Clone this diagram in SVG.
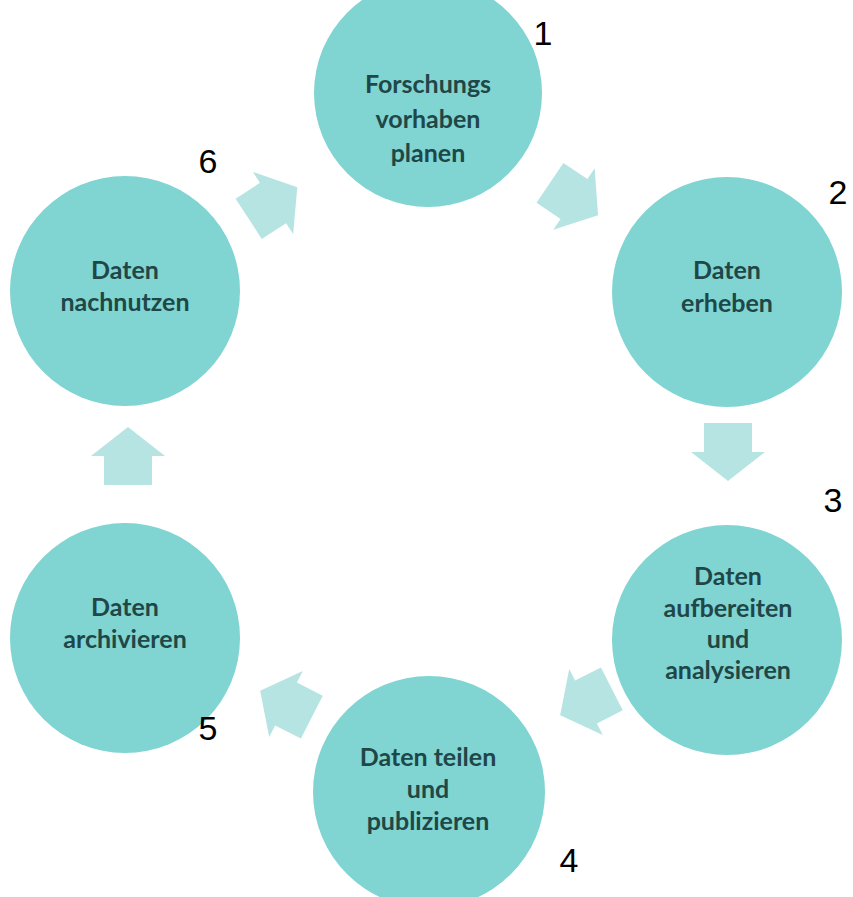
<svg xmlns="http://www.w3.org/2000/svg" width="853" height="897" viewBox="0 0 853 897">
<defs>
<style>
.c{fill:#80d4d2}
.t{font-family:Lato,"Open Sans",sans-serif;font-weight:bold;font-size:25px;fill:#1f4747;text-anchor:middle}
.n{font-family:"Liberation Sans",Arial,sans-serif;font-size:34px;fill:#000;text-anchor:middle}
.a{fill:#b6e4e3}
</style>
<polygon id="arr" points="-29,-24 0,-24 0,-37 29,0 0,37 0,24 -29,24"/>
</defs>
<rect width="853" height="897" fill="#fff"/>
<g id="connectors">
<use href="#arr" class="a" transform="translate(273,203) rotate(-33)"/>
<use href="#arr" class="a" transform="translate(574,199) rotate(34)"/>
<use href="#arr" class="a" transform="translate(728,452) rotate(90)"/>
<use href="#arr" class="a" transform="translate(586,702) rotate(153)"/>
<use href="#arr" class="a" transform="translate(286,704) rotate(207)"/>
<use href="#arr" class="a" transform="translate(128,456) rotate(-90)"/>
</g>
<g id="node1">
<circle class="c" cx="428" cy="93" r="114"/>
<text class="t" x="428" y="93">Forschungs</text>
<text class="t" x="428" y="128">vorhaben</text>
<text class="t" x="428" y="162">planen</text>
<text class="n" x="543" y="45">1</text>
</g>
<g id="node2">
<circle class="c" cx="727" cy="292" r="115"/>
<text class="t" x="727" y="279">Daten</text>
<text class="t" x="727" y="312">erheben</text>
<text class="n" x="838" y="204">2</text>
</g>
<g id="node3">
<circle class="c" cx="727" cy="640" r="115"/>
<text class="t" x="728" y="585">Daten</text>
<text class="t" x="728" y="617">aufbereiten</text>
<text class="t" x="728" y="648">und</text>
<text class="t" x="728" y="679">analysieren</text>
<text class="n" x="833" y="512">3</text>
</g>
<g id="node4">
<circle class="c" cx="429" cy="792" r="116"/>
<text class="t" x="428" y="766">Daten teilen</text>
<text class="t" x="428" y="798">und</text>
<text class="t" x="428" y="830">publizieren</text>
<text class="n" x="569" y="872">4</text>
</g>
<g id="node5">
<circle class="c" cx="125" cy="638" r="115"/>
<text class="t" x="125" y="616">Daten</text>
<text class="t" x="125" y="648">archivieren</text>
<text class="n" x="208" y="740">5</text>
</g>
<g id="node6">
<circle class="c" cx="125" cy="291" r="115"/>
<text class="t" x="125" y="279">Daten</text>
<text class="t" x="125" y="311">nachnutzen</text>
<text class="n" x="208" y="173">6</text>
</g>
</svg>
